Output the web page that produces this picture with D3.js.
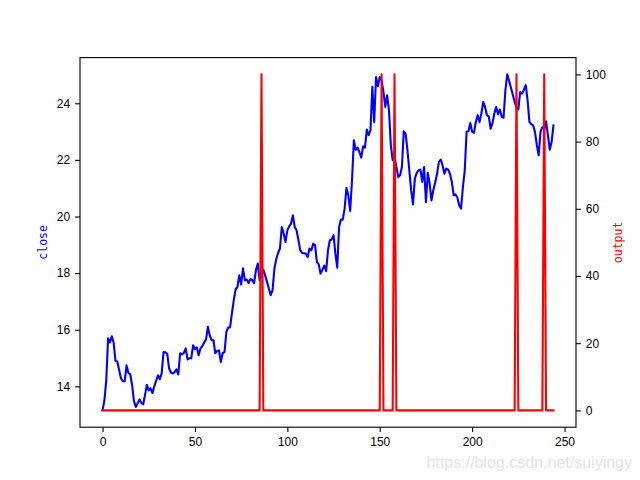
<!DOCTYPE html>
<html>
<head>
<meta charset="utf-8">
<script src="https://cdn.jsdelivr.net/npm/d3@7"></script>
<style>
  html, body { margin: 0; padding: 0; background: #fff; }
  svg { display: block; }
</style>
</head>
<body>
<svg id="chart" width="640" height="480"></svg>
<script>
// ---- data ----
const closeValues = [
  13.15, 13.5, 14.2, 15.7, 15.55, 15.77, 15.55, 14.9, 14.88, 14.57,
  14.28, 14.18, 14.18, 14.74, 14.47, 14.42, 14.04, 13.48, 13.27, 13.4,
  13.54, 13.41, 13.36, 13.7, 14.05, 13.86, 13.93, 13.76, 14.0, 14.2,
  14.39, 14.25, 14.46, 15.21, 15.2, 15.15, 14.64, 14.49, 14.46, 14.5,
  14.6, 14.42, 15.17, 15.13, 15.18, 15.34, 14.95, 14.99, 14.99, 15.45,
  15.31, 15.38, 15.1, 15.34, 15.42, 15.55, 15.66, 16.1, 15.8, 15.63,
  15.63, 15.17, 15.25, 15.27, 14.86, 15.18, 15.21, 15.92, 16.08, 16.08,
  16.58, 17.04, 17.43, 17.51, 17.92, 17.6, 18.17, 17.75, 17.77, 17.65,
  17.79, 17.75, 17.65, 18.1, 18.34, 17.75, 17.92, 18.12, 17.92, 17.69,
  17.45, 17.22, 17.4, 18.16, 18.5, 18.71, 18.87, 19.63, 19.4, 19.1,
  19.51, 19.65, 19.75, 20.04, 19.63, 19.51, 19.16, 18.81, 18.71, 18.7,
  18.69, 18.57, 18.87, 18.81, 19.04, 18.98, 18.39, 18.31, 17.98, 18.12,
  18.27, 18.07, 18.81, 19.16, 19.19, 19.34, 18.69, 18.19, 19.63, 19.89,
  19.89, 20.28, 21.01, 20.75, 20.2, 21.28, 22.69, 22.36, 22.43, 22.28,
  22.08, 22.48, 22.43, 23.07, 22.87, 23.05, 24.58, 23.34, 24.93, 24.6,
  24.93, 24.81, 24.4, 23.87, 24.28, 23.75, 22.52, 21.99, 22.1, 21.75,
  21.4, 21.46, 21.75, 23.01, 22.93, 22.34, 21.63, 20.93, 20.43, 21.34,
  21.54, 21.63, 21.66, 21.22, 21.75, 20.51, 21.54, 21.16, 20.57, 20.93,
  21.2, 21.5, 21.93, 22.01, 21.81, 21.51, 21.69, 21.66, 21.51, 21.22,
  20.75, 20.78, 20.67, 20.4, 20.28, 21.04, 21.63, 22.99, 23.01, 23.3,
  22.99, 22.96, 23.34, 23.58, 23.34, 23.64, 24.05, 23.87, 23.58, 23.54,
  23.1, 23.3, 23.64, 23.87, 23.61, 23.78, 23.52, 23.49, 24.46, 25.02,
  24.79, 24.55, 24.3, 24.05, 23.85, 23.78, 24.4, 24.34, 24.48, 24.64,
  24.1, 23.34, 23.26, 23.22, 22.99, 22.52, 22.16, 23.0, 23.16, 23.1,
  23.36, 22.87, 22.36, 22.63, 23.22
];
const spikeIndices = [86, 151, 158, 224, 239];
const spikeValue = 100;
const xTicks = [0, 50, 100, 150, 200, 250];
const leftTicks = [14, 16, 18, 20, 22, 24];
const rightTicks = [0, 20, 40, 60, 80, 100];
const leftLabel = "close";
const rightLabel = "output";
const watermark = "https://blog.csdn.net/suiyingy";

const outputValues = closeValues.map((_, i) => spikeIndices.includes(i) ? spikeValue : 0);

// ---- layout ----
const W = 640, H = 480;
const L = 0.125 * W, R = 0.9 * W, T = H - 0.88 * H, B = H - 0.11 * H;
const svg = d3.select("#chart");
svg.append("rect").attr("width", W).attr("height", H).attr("fill", "#fff");

function padded(ext) {
  const m = (ext[1] - ext[0]) * 0.05;
  return [ext[0] - m, ext[1] + m];
}
const n = closeValues.length;
const x = d3.scaleLinear().domain(padded([0, n - 1])).range([L, R]);
const yL = d3.scaleLinear().domain(padded(d3.extent(closeValues))).range([B, T]);
const yR = d3.scaleLinear().domain(padded(d3.extent(outputValues))).range([B, T]);

const font = "'Liberation Sans', Arial, sans-serif";
const tickLen = 4.9, pad = 4.9;

// lines
svg.append("clipPath").attr("id", "clip")
  .append("rect").attr("x", L).attr("y", T).attr("width", R - L).attr("height", B - T);

svg.append("path")
  .datum(closeValues)
  .attr("fill", "none").attr("stroke", "#0000ff").attr("stroke-width", 2.1)
  .attr("stroke-linejoin", "round").attr("stroke-linecap", "square")
  .attr("clip-path", "url(#clip)")
  .attr("d", d3.line().x((d, i) => x(i)).y(d => yL(d)));

svg.append("path")
  .datum(outputValues)
  .attr("fill", "none").attr("stroke", "#ff0000").attr("stroke-width", 2.1)
  .attr("stroke-linejoin", "round").attr("stroke-linecap", "square")
  .attr("clip-path", "url(#clip)")
  .attr("d", d3.line().x((d, i) => x(i)).y(d => yR(d)));

// frame
svg.append("rect").attr("x", L).attr("y", T).attr("width", R - L).attr("height", B - T)
  .attr("fill", "none").attr("stroke", "#000").attr("stroke-width", 1.1);

function styleAxis(g) {
  g.select(".domain").remove();
  g.selectAll(".tick line").attr("stroke", "#000").attr("stroke-width", 1.1);
  g.selectAll(".tick text").attr("fill", "#000").style("font-family", font).style("font-size", "12px");
}

svg.append("g").attr("transform", `translate(0,${B})`)
  .call(d3.axisBottom(x).tickValues(xTicks).tickFormat(d3.format("d")).tickSize(tickLen).tickPadding(pad))
  .call(styleAxis);

svg.append("g").attr("transform", `translate(${L},0)`)
  .call(d3.axisLeft(yL).tickValues(leftTicks).tickFormat(d3.format("d")).tickSize(tickLen).tickPadding(pad))
  .call(styleAxis);

svg.append("g").attr("transform", `translate(${R},0)`)
  .call(d3.axisRight(yR).tickValues(rightTicks).tickFormat(d3.format("d")).tickSize(tickLen).tickPadding(pad))
  .call(styleAxis);

// axis labels
const monoFont = "'DejaVu Sans Mono', 'Liberation Mono', monospace";
svg.append("text")
  .attr("transform", `translate(47,${(T + B) / 2}) rotate(-90)`)
  .attr("text-anchor", "middle")
  .attr("fill", "#0000ff").style("font-family", monoFont).style("font-size", "11.5px")
  .text(leftLabel);

svg.append("text")
  .attr("transform", `translate(622,${(T + B) / 2}) rotate(-90)`)
  .attr("text-anchor", "middle")
  .attr("fill", "#ff0000").style("font-family", monoFont).style("font-size", "11.5px")
  .text(rightLabel);

// watermark
svg.append("text")
  .attr("x", 632).attr("y", 468).attr("text-anchor", "end")
  .attr("fill", "#e3e3e3").style("font-family", font).style("font-size", "16px")
  .text(watermark);
</script>
</body>
</html>
